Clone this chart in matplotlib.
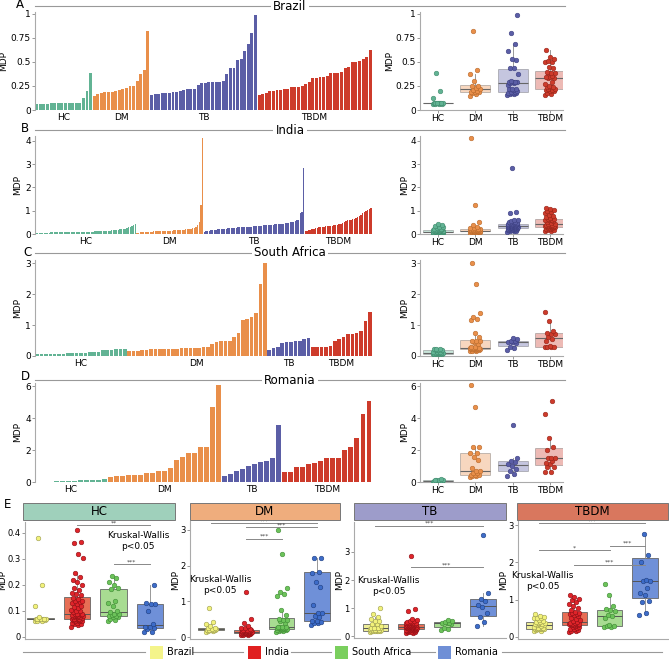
import numpy as np
import matplotlib
matplotlib.use("Agg")
import matplotlib.pyplot as plt
from matplotlib.patches import Rectangle
from matplotlib.ticker import FuncFormatter

# %%
# data (MDP values, sorted per group)

groups = ["HC", "DM", "TB", "TBDM"]
countries = ["Brazil", "India", "South Africa", "Romania"]

brazil_hc = [0.06, 0.06, 0.06, 0.065, 0.07, 0.07, 0.07, 0.07, 0.07, 0.07, 0.07, 0.07, 0.075, 0.12, 0.2, 0.38]
brazil_dm = [0.15, 0.17, 0.18, 0.19, 0.19, 0.19, 0.2, 0.21, 0.22, 0.23, 0.25, 0.25, 0.3, 0.37, 0.42, 0.82]
brazil_tb = [0.16, 0.165, 0.17, 0.175, 0.18, 0.18, 0.185, 0.19, 0.2, 0.21, 0.215, 0.215, 0.22, 0.26, 0.28,
             0.285, 0.29, 0.29, 0.29, 0.295, 0.3, 0.37, 0.44, 0.44, 0.52, 0.53, 0.61, 0.69, 0.8, 0.99]
brazil_tbdm = [0.16, 0.165, 0.18, 0.2, 0.2, 0.205, 0.21, 0.215, 0.215, 0.24, 0.24, 0.24, 0.25, 0.27, 0.29, 0.33,
               0.33, 0.34, 0.34, 0.355, 0.38, 0.385, 0.39, 0.4, 0.44, 0.445, 0.5, 0.5, 0.505, 0.53, 0.55, 0.62]

india_hc = [0.04, 0.045, 0.05, 0.05, 0.055, 0.055, 0.06, 0.06, 0.06, 0.065, 0.065, 0.065, 0.07, 0.07, 0.07,
            0.07, 0.072, 0.075, 0.075, 0.078, 0.08, 0.08, 0.08, 0.082, 0.085, 0.085, 0.085, 0.088, 0.09, 0.09,
            0.09, 0.095, 0.1, 0.1, 0.105, 0.11, 0.115, 0.12, 0.125, 0.13, 0.135, 0.14, 0.14, 0.145, 0.15,
            0.16, 0.165, 0.17, 0.18, 0.19, 0.2, 0.21, 0.22, 0.23, 0.245, 0.305, 0.32, 0.36, 0.365, 0.41]
india_dm = [0.05, 0.06, 0.07, 0.08, 0.08, 0.09, 0.09, 0.1, 0.1, 0.1, 0.11, 0.11, 0.12, 0.12, 0.12, 0.13, 0.13,
            0.14, 0.14, 0.15, 0.15, 0.15, 0.16, 0.16, 0.17, 0.17, 0.18, 0.18, 0.19, 0.2, 0.2, 0.21, 0.22, 0.24,
            0.26, 0.3, 0.38, 0.5, 1.25, 4.1]
india_tb = [0.1, 0.12, 0.13, 0.15, 0.16, 0.17, 0.18, 0.19, 0.2, 0.2, 0.21, 0.22, 0.22, 0.23, 0.24, 0.25, 0.25,
            0.26, 0.27, 0.27, 0.28, 0.28, 0.29, 0.3, 0.3, 0.31, 0.31, 0.32, 0.32, 0.33, 0.34, 0.34, 0.35, 0.35,
            0.36, 0.37, 0.37, 0.38, 0.38, 0.39, 0.4, 0.4, 0.41, 0.42, 0.43, 0.44, 0.45, 0.45, 0.46, 0.47,
            0.48, 0.5, 0.51, 0.53, 0.55, 0.58, 0.62, 0.88, 0.95, 2.85]
india_tbdm = [0.13, 0.15, 0.16, 0.18, 0.2, 0.22, 0.24, 0.26, 0.28, 0.3, 0.31, 0.32, 0.33, 0.34, 0.35, 0.35, 0.36,
              0.37, 0.38, 0.4, 0.42, 0.45, 0.48, 0.5, 0.55, 0.6, 0.61, 0.62, 0.63, 0.65, 0.68, 0.72, 0.78, 0.82,
              0.88, 0.93, 0.98, 1.02, 1.08, 1.12]

sa_hc = [0.06, 0.065, 0.07, 0.075, 0.075, 0.08, 0.08, 0.085, 0.09, 0.09, 0.095, 0.1, 0.12, 0.13, 0.14, 0.185,
         0.19, 0.2, 0.21, 0.225, 0.235]
sa_dm = [0.15, 0.16, 0.17, 0.2, 0.2, 0.21, 0.22, 0.22, 0.23, 0.23, 0.24, 0.24, 0.25, 0.25, 0.26, 0.27, 0.27,
         0.28, 0.28, 0.4, 0.45, 0.47, 0.48, 0.5, 0.62, 0.75, 1.15, 1.2, 1.25, 1.38, 2.33, 3.0]
sa_tb = [0.2, 0.25, 0.28, 0.42, 0.45, 0.46, 0.48, 0.5, 0.55, 0.58]
sa_tbdm = [0.28, 0.28, 0.3, 0.3, 0.31, 0.5, 0.55, 0.6, 0.7, 0.72, 0.74, 0.82, 1.12, 1.43]

romania_hc = [0.02, 0.02, 0.03, 0.035, 0.04, 0.04, 0.05, 0.1, 0.125, 0.125, 0.13, 0.2]
romania_dm = [0.33, 0.38, 0.38, 0.42, 0.45, 0.46, 0.57, 0.58, 0.68, 0.68, 0.9, 1.4, 1.55, 1.8, 1.82, 2.2, 2.2,
              4.7, 6.1]
romania_tb = [0.35, 0.5, 0.68, 0.82, 1.02, 1.12, 1.25, 1.33, 1.52, 3.6]
romania_tbdm = [0.6, 0.65, 0.95, 0.97, 1.12, 1.17, 1.3, 1.5, 1.5, 1.52, 2.02, 2.2, 2.75, 4.25, 5.1]

data = {
    "Brazil": [brazil_hc, brazil_dm, brazil_tb, brazil_tbdm],
    "India": [india_hc, india_dm, india_tb, india_tbdm],
    "South Africa": [sa_hc, sa_dm, sa_tb, sa_tbdm],
    "Romania": [romania_hc, romania_dm, romania_tb, romania_tbdm],
}

# %%
# styling

W, H = 669, 659
grp_col = ["#62b394", "#e98f4a", "#5b5ea6", "#cd3b2b"]
grp_edge = ["#3f8a6c", "#b86a2c", "#3c3f80", "#962418"]
strip_col = ["#9fd0bb", "#efad7d", "#9d9cca", "#d9775e"]
e_box = ["#eeee98", "#e76e55", "#a8dc92", "#6f90d8"]
e_pt = ["#f2f27a", "#e0242a", "#6cc35a", "#3d6cc8"]
e_pt_edge = ["#9a9a50", "#8a1015", "#3f8a35", "#1f3f80"]
leg_col = ["#f4f48a", "#e02020", "#7acf5e", "#6f8fd6"]
gray = "#888888"

plt.rcParams["font.family"] = "DejaVu Sans"

fig = plt.figure(figsize=(W / 100, H / 100), dpi=100)

# overlay axes in pixel coords for headers / legend (drawn on top)
ov = fig.add_axes([0, 0, 1, 1])
ov.set_xlim(0, W)
ov.set_ylim(H, 0)
ov.axis("off")
ov.set_zorder(10)
ov.patch.set_visible(False)


def add_ax(l, t, r, b):
    a = fig.add_axes([l / W, 1 - b / H, (r - l) / W, (b - t) / H])
    a.patch.set_visible(False)
    return a


def jit(n, w):
    return np.array([((i * 0.618034) % 1 - 0.5) * 2 * w for i in range(n)])


fmt = FuncFormatter(lambda v, p: "%g" % v)


def style_left(ax):
    for s in ["top", "right"]:
        ax.spines[s].set_visible(False)
    ax.spines["left"].set_color("#aaaaaa")
    ax.spines["bottom"].set_color("#aaaaaa")
    ax.tick_params(axis="y", labelsize=6.5, length=2, width=0.6, color="#888888", pad=1)
    ax.yaxis.set_major_formatter(fmt)


# %%
# panels A-D

rows = [
    ("A", "Brazil", 12, 110, 1.02, [0, 0.25, 0.5, 0.75, 1], 6, 20, 5),
    ("B", "India", 136, 234, 4.2, [0, 1, 2, 3, 4], 130, 25, 129),
    ("C", "South Africa", 260, 356, 3.1, [0, 1, 2, 3], 253, 27, 252),
    ("D", "Romania", 383, 482, 6.2, [0, 2, 4, 6], 380, 25, 376),
]

for letter, country, top, bot, ymax, yt, hy, lx, ly in rows:
    vals = data[country]

    # header line + title
    ov.plot([35, 565], [hy, hy], color="#999999", lw=0.8)
    ov.text(290, hy, country, ha="center", va="center", fontsize=8.5,
            bbox=dict(facecolor="white", edgecolor="none", pad=1.5))
    ov.text(lx, ly, letter, ha="center", va="center", fontsize=8.5)

    # bar chart
    ax = add_ax(35, top, 372, bot)
    start = 0
    centers = []
    for g in range(4):
        x = np.arange(start, start + len(vals[g]))
        ax.bar(x, vals[g], width=0.82, color=grp_col[g], linewidth=0)
        centers.append(start + (len(vals[g]) - 1) / 2)
        start += len(vals[g])
    ax.set_xlim(-0.5, start - 0.5)
    ax.set_ylim(0, ymax)
    ax.set_yticks(yt)
    style_left(ax)
    ax.spines["bottom"].set_visible(False)
    ax.set_xticks(centers)
    ax.set_xticklabels(groups, fontsize=6.5)
    ax.tick_params(axis="x", length=0, pad=2)
    ax.set_ylabel("MDP", fontsize=6.5, labelpad=2)

    # box plot
    bx = add_ax(420, top, 563, bot)
    bp = bx.boxplot(vals, positions=[1, 2, 3, 4], widths=0.8, patch_artist=True,
                    showfliers=False, showcaps=False,
                    medianprops=dict(color="#666666", lw=0.8),
                    whiskerprops=dict(color="#888888", lw=0.6),
                    boxprops=dict(lw=0.7))
    for g, patch in enumerate(bp["boxes"]):
        patch.set_facecolor(grp_col[g])
        patch.set_alpha(0.35)
        patch.set_edgecolor("#555555")
    for g in range(4):
        v = np.array(vals[g])
        bx.scatter(g + 1 + jit(len(v), 0.14), v, s=11, color=grp_col[g],
                   edgecolor=grp_edge[g], linewidth=0.4, zorder=3)
    bx.set_xlim(0.52, 4.35)
    bx.set_ylim(0, ymax)
    bx.set_yticks(yt)
    style_left(bx)
    bx.set_xticks([1, 2, 3, 4])
    bx.set_xticklabels(groups, fontsize=6.5)
    bx.tick_params(axis="x", length=2, width=0.6, color="#888888", pad=1)
    bx.set_ylabel("MDP", fontsize=6.5, labelpad=1)

# %%
# panel E

ov.text(8, 505, "E", ha="center", va="center", fontsize=8.5)

e_axes = [
    (25, 522, 175, 639, (-0.008, 0.442), [0, 0.1, 0.2, 0.3, 0.4], (0.58, 4.68), 23),
    (190, 521, 340, 639, (-0.056, 3.25), [0, 1, 2, 3], (0.4, 4.65), 190),
    (354, 522, 506, 638, (-0.07, 4.07), [0, 1, 2, 3], (0.4, 4.65), 354),
    (518, 521, 668, 639, (-0.055, 3.11), [0, 1, 2, 3], (0.4, 4.65), 517),
]

sig = [
    [(2, 4, 0.43, "**"), (3, 4, 0.28, "***")],
    [(1, 4, 3.19, "***"), (2, 4, 3.08, "***"), (2, 3, 2.75, "***")],
    [(1, 4, 3.93, "***"), (2, 4, 2.46, "***")],
    [(1, 4, 3.05, "***"), (1, 3, 2.32, "*"), (2, 4, 1.93, "***"), (3, 4, 2.45, "***")],
]
kw_pos = [(3.67, 0.37), (1.25, 1.45), (1.37, 1.8), (1.1, 1.5)]

for g in range(4):
    l, t, r, b, yl, yt, xl, sl = e_axes[g]
    ov.add_patch(Rectangle((sl, 503), r - sl, 17, facecolor=strip_col[g],
                           edgecolor="#777777", lw=0.7, zorder=1))
    ov.text((sl + r) / 2, 511.5, groups[g], ha="center", va="center", fontsize=8.5, zorder=2)

    ax = add_ax(l, t, r, b)
    vals = [data[c][g] for c in countries]
    bp = ax.boxplot(vals, positions=[1, 2, 3, 4], widths=0.72, patch_artist=True,
                    showfliers=False, showcaps=False,
                    medianprops=dict(color="#555555", lw=0.7),
                    whiskerprops=dict(color="#888888", lw=0.6),
                    boxprops=dict(lw=0.6))
    for k, patch in enumerate(bp["boxes"]):
        patch.set_facecolor(e_box[k])
        patch.set_edgecolor("#666666")
    for k in range(4):
        v = np.array(vals[k])
        ax.scatter(k + 1 + jit(len(v), 0.16), v, s=11, color=e_pt[k],
                   edgecolor=e_pt_edge[k], linewidth=0.4, zorder=3)
    for a, c, y, lab in sig[g]:
        ax.plot([a, c], [y, y], color=gray, lw=0.7, clip_on=False)
        ax.text((a + c) / 2, y, lab, ha="center", va="bottom", fontsize=4.5, color="#444444")
    ax.text(kw_pos[g][0], kw_pos[g][1], "Kruskal-Wallis\np<0.05", ha="center", va="center",
            fontsize=6.5, linespacing=1.3)
    ax.set_xlim(*xl)
    ax.set_ylim(*yl)
    ax.set_yticks(yt)
    style_left(ax)
    ax.tick_params(axis="y", labelsize=6)
    ax.set_xticks([])
    ax.set_ylabel("MDP", fontsize=6.5, labelpad=0)

# %%
# legend at bottom

leg_y = 652
for x0, x1 in [(23, 145), (193, 243), (291, 331), (410, 435), (502, 662)]:
    ov.plot([x0, x1], [leg_y, leg_y], color="#999999", lw=0.8)
leg_sq = [150, 248, 335, 438]
for k in range(4):
    ov.add_patch(Rectangle((leg_sq[k], leg_y - 6.5), 13, 13, facecolor=leg_col[k], edgecolor="none"))
    ov.text(leg_sq[k] + 17, leg_y, countries[k], ha="left", va="center", fontsize=7)

fig.savefig("out.png", dpi=100)
